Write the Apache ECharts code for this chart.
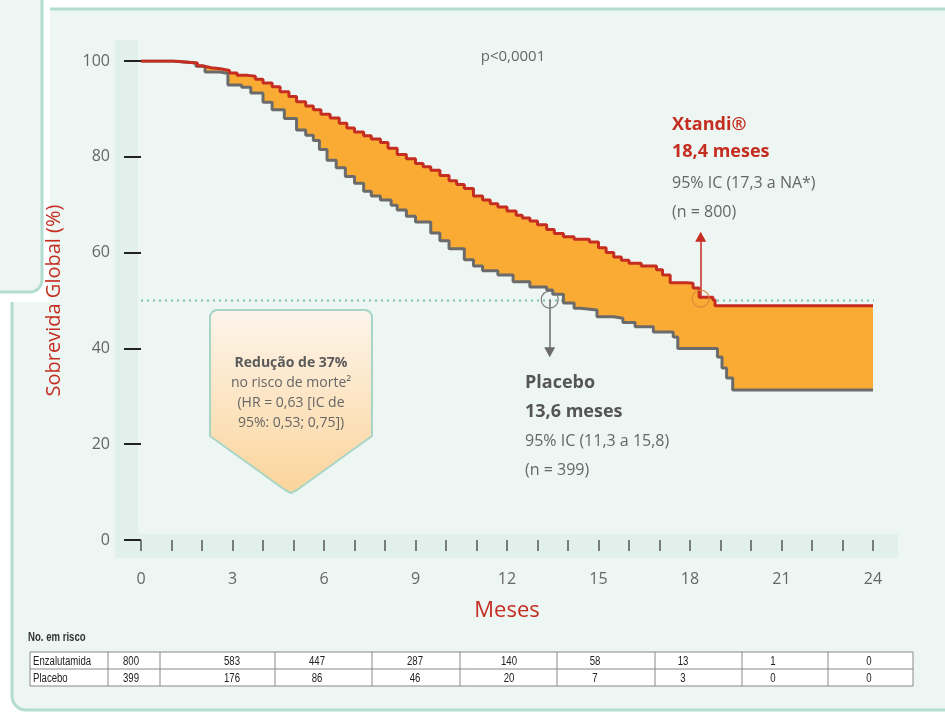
<!DOCTYPE html>
<html>
<head>
<meta charset="utf-8">
<script src="https://cdn.jsdelivr.net/npm/echarts@6/dist/echarts.min.js"></script>
<style>
  html, body { margin: 0; padding: 0; background: #fff; }
  #chart { width: 945px; height: 713px; }
</style>
</head>
<body>
<div id="chart"></div>
<script>
// curvas de Kaplan-Meier (meses, sobrevida %)
const xtandiMonths = [0, 1.05, 1.85, 2.0, 2.3, 2.6, 2.9, 3.15, 3.5, 3.75, 4.0, 4.3, 4.56, 4.85, 5.1, 5.4, 5.65, 5.9, 6.2, 6.5, 6.75, 7.0, 7.3, 7.55, 7.85, 8.1, 8.4, 8.7, 9.0, 9.25, 9.5, 9.8, 10.1, 10.35, 10.6, 10.9, 11.2, 11.45, 11.7, 12.0, 12.3, 12.5, 12.75, 13.0, 13.3, 13.55, 13.85, 14.2, 14.7, 15.0, 15.25, 15.5, 15.75, 16.0, 16.4, 16.9, 17.1, 17.35, 17.9, 18.1, 18.3, 18.75, 18.82, 24];
const xtandiSurv = [100, 99.6, 99.0, 98.6, 98.4, 98.0, 97.5, 97.0, 96.8, 96.2, 95.4, 94.6, 93.6, 92.6, 91.5, 90.6, 89.8, 88.9, 88.1, 87.0, 86.0, 85.2, 84.4, 83.7, 83.0, 81.8, 80.5, 79.6, 78.6, 77.9, 77.2, 76.1, 75.0, 74.2, 73.4, 71.8, 71.0, 70.2, 69.5, 68.7, 67.8, 67.2, 66.6, 65.8, 64.8, 64.0, 63.3, 62.8, 62.2, 61.0, 60.0, 59.1, 58.4, 57.8, 57.2, 56.4, 55.3, 53.7, 53.6, 52.6, 50.7, 50.1, 48.9, 48.9];

const placeboMonths = [0, 1.05, 1.8, 2.1, 2.6, 2.85, 3.3, 3.6, 4.0, 4.3, 4.7, 5.1, 5.4, 5.65, 5.85, 6.1, 6.4, 6.7, 7.0, 7.3, 7.55, 7.85, 8.2, 8.4, 8.7, 9.0, 9.5, 9.8, 10.1, 10.6, 10.9, 11.2, 11.7, 12.2, 12.75, 13.3, 13.5, 13.85, 14.2, 14.4, 14.95, 15.5, 15.8, 16.2, 16.8, 17.45, 17.6, 18.65, 18.9, 19.05, 19.2, 19.4, 24];
const placeboSurv = [100, 99.6, 98.9, 97.7, 97.4, 95.0, 94.5, 93.3, 91.4, 89.8, 88.0, 85.6, 84.5, 83.4, 81.5, 79.3, 77.7, 75.9, 74.5, 72.8, 71.8, 71.0, 69.9, 68.9, 67.6, 66.4, 64.1, 62.5, 60.8, 58.5, 57.2, 56.2, 55.3, 53.9, 52.8, 52.2, 51.3, 49.5, 48.4, 48.0, 46.6, 46.3, 45.4, 44.5, 43.4, 42.4, 40.0, 40.0, 38.2, 35.9, 33.8, 31.3, 31.3];

// medianas (posição no gráfico) e setas
const medianLine = [[0, 50], [24.6, 50]];
const xtandiMedian = [18.35, 50.4];
const xtandiArrowTop = 63.3;
const placeboMedian = [13.4, 50.2];
const placeboArrowBottom = 39.2;

// tabela de número em risco
const riskRows = ['Enzalutamida', 'Placebo'];
const riskEnza = [800, 583, 447, 287, 140, 58, 13, 1, 0];
const riskPlacebo = [399, 176, 86, 46, 20, 7, 3, 0, 0];

const xtandiData = xtandiMonths.map((m, i) => [m, xtandiSurv[i]]);
const placeboData = placeboMonths.map((m, i) => [m, placeboSurv[i]]);

const RED = '#c42d20';
const GRAY = '#6b6b6b';
const TEXT = '#666';
const FONT = 'Open Sans, Noto Sans, sans-serif';
const TABLE_FONT = '12px "Liberation Sans", Arial, sans-serif';

const chart = echarts.init(document.getElementById('chart'));

// pontos em escada (step 'end')
function stepPoints(data, api) {
  const pts = [];
  for (let i = 0; i < data.length; i++) {
    pts.push(api.coord(data[i]));
    if (i + 1 < data.length) pts.push(api.coord([data[i + 1][0], data[i][1]]));
  }
  return pts;
}

// colunas da tabela
const colEdges = [30, 108, 160, 275, 372, 460, 557, 655, 742, 828, 913];
const colCenters = [131, 232, 317, 415, 509, 595, 683, 773, 869];
const tableTop = 652, rowH = 17;

const tableGraphics = [
  { type: 'text', x: 28, y: 638, scaleX: 0.8, style: { text: 'No. em risco', font: 'bold 12px "Liberation Sans", Arial, sans-serif', fill: '#333', textVerticalAlign: 'middle' } },
  { type: 'rect', shape: { x: colEdges[0], y: tableTop, width: colEdges[10] - colEdges[0], height: rowH * 2 }, style: { fill: '#fff', stroke: '#888', lineWidth: 1 } },
  { type: 'line', shape: { x1: colEdges[0], y1: tableTop + rowH, x2: colEdges[10], y2: tableTop + rowH }, style: { stroke: '#888', lineWidth: 1 } }
];
for (let c = 1; c < colEdges.length - 1; c++) {
  tableGraphics.push({ type: 'line', shape: { x1: colEdges[c], y1: tableTop, x2: colEdges[c], y2: tableTop + rowH * 2 }, style: { stroke: '#888', lineWidth: 1 } });
}
[riskEnza, riskPlacebo].forEach((row, r) => {
  const cy = tableTop + rowH * r + rowH / 2 + 1;
  tableGraphics.push({ type: 'text', x: colEdges[0] + 3, y: cy, scaleX: 0.8, style: { text: riskRows[r], font: TABLE_FONT, fill: '#222', textVerticalAlign: 'middle' } });
  row.forEach((v, c) => {
    tableGraphics.push({ type: 'text', x: colCenters[c], y: cy, scaleX: 0.8, style: { text: String(v), font: TABLE_FONT, fill: '#222', textAlign: 'center', textVerticalAlign: 'middle' } });
  });
});

function txt(x, y, text, opt) {
  return {
    type: 'text', x: x, y: y, z: 50,
    style: Object.assign({ text: text, fill: TEXT, fontFamily: FONT, fontSize: 16, textVerticalAlign: 'middle' }, opt || {})
  };
}

const option = {
  animation: false,
  backgroundColor: '#fff',
  grid: { left: 141, right: 72, top: 61, bottom: 173 },
  xAxis: {
    type: 'value',
    min: 0, max: 24, interval: 3,
    name: 'Meses', nameLocation: 'middle', nameGap: 60,
    nameTextStyle: { color: RED, fontSize: 22, fontFamily: FONT },
    axisLine: { show: false },
    axisTick: { show: true, length: 11, lineStyle: { color: '#555', width: 1.5 } },
    minorTick: { show: true, splitNumber: 3, length: 11, lineStyle: { color: '#555', width: 1.5 } },
    axisLabel: { margin: 31, color: TEXT, fontSize: 16, fontFamily: FONT },
    splitLine: { show: false }
  },
  yAxis: {
    type: 'value',
    min: 0, max: 100, interval: 20,
    offset: 3,
    name: 'Sobrevida Global (%)', nameLocation: 'middle', nameGap: 74,
    nameTextStyle: { color: RED, fontSize: 20, fontFamily: FONT },
    axisLine: { show: false },
    axisTick: { show: true, length: 17, lineStyle: { color: '#222', width: 2 } },
    axisLabel: { margin: 28, color: TEXT, fontSize: 16, fontFamily: FONT },
    splitLine: { show: false }
  },
  graphic: [
    // painel de fundo
    { type: 'rect', z: -10, shape: { x: 12, y: 9, width: 960, height: 701, r: 14 }, style: { fill: '#edf6f2', stroke: '#b4ddd1', lineWidth: 3 } },
    { type: 'rect', z: -9, shape: { x: 0, y: 0, width: 50, height: 302 }, style: { fill: '#fff' } },
    { type: 'rect', z: -8, shape: { x: -30, y: -30, width: 72, height: 322, r: 12 }, style: { fill: '#edf6f2', stroke: '#b4ddd1', lineWidth: 3 } },
    { type: 'rect', z: -7, shape: { x: 115, y: 40, width: 23, height: 518 }, style: { fill: '#e1f0ea' } },
    { type: 'rect', z: -7, shape: { x: 115, y: 534, width: 783, height: 24 }, style: { fill: '#e1f0ea' } },
    // textos
    txt(513, 57, 'p<0,0001', { textAlign: 'center', fontSize: 15 }),
    txt(672, 125, 'Xtandi®', { fill: RED, fontWeight: 'bold', fontSize: 18 }),
    txt(672, 152, '18,4 meses', { fill: RED, fontWeight: 'bold', fontSize: 18 }),
    txt(672, 183, '95% IC (17,3 a NA*)'),
    txt(672, 212, '(n = 800)'),
    txt(525, 383, 'Placebo', { fill: '#555', fontWeight: 'bold', fontSize: 18 }),
    txt(525, 412, '13,6 meses', { fill: '#555', fontWeight: 'bold', fontSize: 18 }),
    txt(525, 441, '95% IC (11,3 a 15,8)'),
    txt(525, 470, '(n = 399)'),
    // caixa de redução de risco
    {
      type: 'polygon', z: 40,
      shape: {
        points: [[216, 310], [366, 310], [370, 312], [372, 316], [372, 436], [297, 490], [291, 493], [285, 490], [210, 436], [210, 316], [212, 312]]
      },
      style: {
        fill: new echarts.graphic.LinearGradient(0, 0, 0, 1, [
          { offset: 0, color: '#fdf5ec' },
          { offset: 1, color: '#fbd49a' }
        ]),
        stroke: '#a9d5c6', lineWidth: 2, lineJoin: 'round'
      }
    },
    txt(291, 363, 'Redução de 37%', { textAlign: 'center', fontWeight: 'bold', fontSize: 14, fill: '#5a5a5a' }),
    txt(291, 383, 'no risco de morte²', { textAlign: 'center', fontSize: 14 }),
    txt(291, 403, '(HR = 0,63 [IC de', { textAlign: 'center', fontSize: 14 }),
    txt(291, 423, '95%: 0,53; 0,75])', { textAlign: 'center', fontSize: 14 })
  ].concat(tableGraphics),
  series: [
    {
      name: 'Mediana',
      type: 'line',
      z: 1,
      data: medianLine,
      symbol: 'none',
      clip: false,
      silent: true,
      lineStyle: { color: '#78c2ad', width: 2, type: [2, 4] }
    },
    {
      name: 'Diferença',
      type: 'custom',
      z: 2,
      clip: false,
      data: [[0, 0]],
      renderItem: function (params, api) {
        const upper = stepPoints(xtandiData, api);
        const lower = stepPoints(placeboData, api).reverse();
        return { type: 'polygon', shape: { points: upper.concat(lower) }, style: { fill: '#f9ab33' } };
      }
    },
    {
      name: 'Placebo',
      type: 'line',
      z: 3,
      step: 'end',
      symbol: 'none',
      data: placeboData,
      lineStyle: { color: GRAY, width: 3 },
      markLine: {
        silent: true,
        symbol: ['none', 'triangle'],
        symbolSize: [11, 10],
        label: { show: false },
        lineStyle: { color: GRAY, width: 1.5, type: 'solid' },
        data: [[{ coord: placeboMedian }, { coord: [placeboMedian[0], placeboArrowBottom] }]]
      },
      markPoint: {
        symbol: 'circle', symbolSize: 17, silent: true,
        label: { show: false },
        itemStyle: { color: 'rgba(0,0,0,0)', borderColor: '#777', borderWidth: 1.2 },
        data: [{ coord: placeboMedian }]
      }
    },
    {
      name: 'Xtandi',
      type: 'line',
      z: 4,
      step: 'end',
      symbol: 'none',
      data: xtandiData,
      lineStyle: { color: RED, width: 3 },
      markLine: {
        silent: true,
        symbol: ['none', 'triangle'],
        symbolSize: [11, 10],
        label: { show: false },
        lineStyle: { color: RED, width: 1.5, type: 'solid' },
        data: [[{ coord: xtandiMedian }, { coord: [xtandiMedian[0], xtandiArrowTop] }]]
      },
      markPoint: {
        symbol: 'circle', symbolSize: 17, silent: true,
        label: { show: false },
        itemStyle: { color: 'rgba(0,0,0,0)', borderColor: '#e0863a', borderWidth: 1.2 },
        data: [{ coord: xtandiMedian }]
      }
    }
  ]
};

chart.setOption(option);
</script>
</body>
</html>
